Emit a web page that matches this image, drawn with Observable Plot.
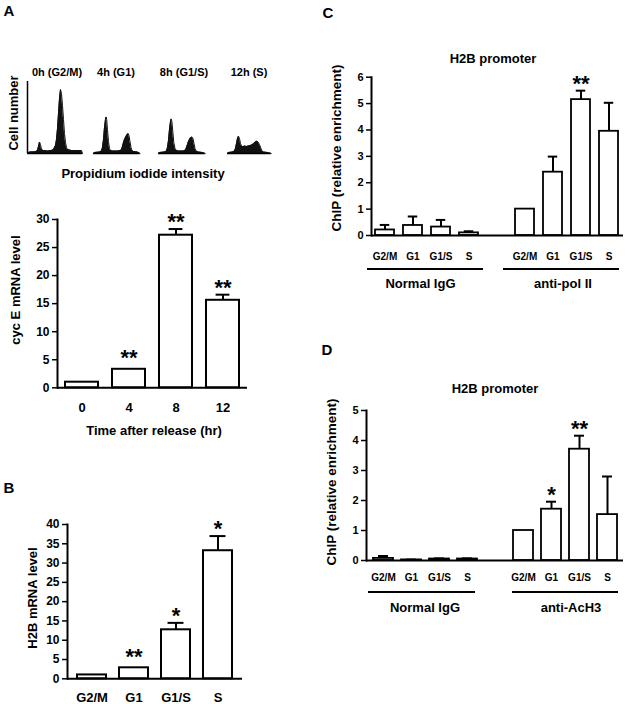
<!DOCTYPE html>
<html><head><meta charset="utf-8">
<script src="https://cdn.jsdelivr.net/npm/d3@7"></script>
<script src="https://cdn.jsdelivr.net/npm/@observablehq/plot@0.6"></script>
<style>
html,body{margin:0;padding:0;background:#fff;}
#fig{position:relative;width:627px;height:704px;overflow:hidden;font-family:"Liberation Sans",Arial,sans-serif;font-weight:bold;color:#000;background:#fff;}
.lbl{position:absolute;white-space:nowrap;transform:translate(-50%,-50%);line-height:1;}
.rot{transform:translate(-50%,-50%) rotate(-90deg);}
.hline{position:absolute;height:2px;background:#000;}
</style></head><body><div id="fig"></div>
<script>
// ---------- DATA ----------
// Panel A: flow cytometry histograms [PI intensity channel, relative cell count]
const histTitles = ["0h (G2/M)", "4h (G1)", "8h (G1/S)", "12h (S)"];
const hist0h = [[0,0],[2,1.5],[8,1.7],[10,3],[11,7],[12,11.5],[13,9],[14,4],[16,3],[20,2.5],[24,3],[26,4],[28,8],[29,14],[30,25],[31,40],[32,55],[33,64],[34,60],[35,48],[36,34],[37,20],[38,11],[39,6],[40,4],[44,3],[50,3],[54,3],[55,0]];
const hist4h = [[0,0],[1,1],[6,1.5],[8,2.5],[9,6],[10,14],[11,26],[12,34],[12.6,36.6],[13.2,34],[14,24],[15,12],[16,5],[17,3],[19,2.5],[24,2.5],[27,3],[28,4],[29,7],[30,11],[31,14],[32,16],[33,18],[34.6,20],[35.5,18],[36.5,12],[37.5,6],[38.5,3],[40,2],[44,1.5],[46.6,0]];
const hist8h = [[0,0],[1,1],[6,1.5],[8,2.5],[9,6],[10,13],[11,24],[12,32],[12.7,34.6],[13.4,32],[14.3,22],[15.3,11],[16.5,5],[18,3],[20,2.5],[25,2.5],[27,3.5],[28,6],[29,9],[30,12],[31.5,15],[33.4,16.6],[34.5,15],[35.5,10],[36.5,5],[37.5,2.5],[40,1.5],[44,1],[46.7,0]];
const hist12h = [[0,0],[1,1],[5,1.5],[7,2.5],[8,5],[9,10],[10,15],[11,17.3],[12,15],[13,10],[14,7.5],[15.4,6.7],[17,7.5],[19,7],[21,7.5],[23,8],[25,9],[27,10.5],[28.5,12],[29.4,12.3],[30.5,11.5],[32,9],[33.5,5],[34.5,2.5],[36,1.5],[40,1],[43.7,0]];

// Panel A: cyclin E mRNA
const timeLabels = ["0", "4", "8", "12"];
const cycE = [1.0, 3.3, 27.2, 15.6];
const cycEErr = [1.0, 3.3, 28.3, 16.6];
const cycEStars = ["", "**", "**", "**"];

// Panel B: H2B mRNA
const phases = ["G2/M", "G1", "G1/S", "S"];
const h2b = [1.0, 2.85, 12.7, 33.2];
const h2bErr = [1.0, 2.85, 14.5, 37.0];
const h2bStars = ["", "**", "*", "*"];

// Panel C: ChIP anti-pol II
const cIgG = [0.21, 0.38, 0.32, 0.10];
const cIgGErr = [0.40, 0.72, 0.59, 0.16];
const cPol = [1.0, 2.40, 5.15, 3.95];
const cPolErr = [1.0, 2.99, 5.49, 5.03];
const cPolStars = ["", "", "**", ""];

// Panel D: ChIP anti-AcH3
const dIgG = [0.07, 0.02, 0.05, 0.05];
const dIgGErr = [0.15, 0.03, 0.07, 0.07];
const dAc = [1.0, 1.71, 3.71, 1.53];
const dAcErr = [1.0, 1.96, 4.16, 2.80];
const dAcStars = ["", "*", "**", ""];

// ---------- HELPERS ----------
const FONT = "'Liberation Sans', Arial, sans-serif";
const fig = document.getElementById("fig");
function place(node, left, top) {
  node.style.position = "absolute";
  node.style.left = left + "px";
  node.style.top = top + "px";
  fig.appendChild(node);
}
function label(text, x, y, size, rot) {
  const d = document.createElement("div");
  d.className = "lbl" + (rot ? " rot" : "");
  d.textContent = text;
  d.style.left = x + "px";
  d.style.top = y + "px";
  d.style.fontSize = size + "px";
  fig.appendChild(d);
}
function hline(x1, x2, y) {
  const d = document.createElement("div");
  d.className = "hline";
  d.style.left = x1 + "px";
  d.style.width = (x2 - x1) + "px";
  d.style.top = (y - 1) + "px";
  fig.appendChild(d);
}

function histPlot(data, W, withAxis) {
  return Plot.plot({
    width: W + 4, height: 76,
    marginLeft: 2, marginRight: 2, marginTop: 2, marginBottom: 2,
    style: {background: "transparent", overflow: "visible"},
    x: {domain: [0, W], axis: null},
    y: {domain: [0, 72], axis: null},
    marks: [
      Plot.areaY(data, {x: d => d[0], y: d => d[1], fill: "#111"}),
      Plot.lineY(data, {x: d => d[0], y: d => d[1], stroke: "#111", strokeWidth: 1}),
      Plot.ruleY([0], {strokeWidth: 1.5}),
      withAxis ? Plot.ruleX([0], {strokeWidth: 1.5}) : null
    ]
  });
}

function barPanel(o) {
  const rows = o.keys.map((k, i) => ({key: k, v: o.values[i], e: o.errs[i], s: o.stars[i]}));
  const n = o.keys.length;
  const step = o.plotW / (n - o.padIn + 2 * o.padOut);
  const bw = step * (1 - o.padIn);
  const capInset = (bw - bw * o.capFrac) / 2;
  const real = rows.filter(r => r.v != null);
  const hasErr = real.filter(r => r.e > r.v);
  const starred = rows.filter(r => r.s);
  const mr = 14, mb = 40;
  return Plot.plot({
    width: o.marginLeft + o.plotW + mr,
    height: o.marginTop + o.plotH + mb,
    marginLeft: o.marginLeft, marginRight: mr, marginTop: o.marginTop, marginBottom: mb,
    style: {fontFamily: FONT, fontWeight: "bold", fontSize: o.yFont + "px", background: "transparent", overflow: "visible", color: "#000"},
    x: {type: "band", domain: o.keys, paddingInner: o.padIn, paddingOuter: o.padOut, align: 0.5},
    y: {domain: o.yDomain},
    marks: [
      Plot.axisY({ticks: o.yTicks, tickSize: 5, tickPadding: 3, strokeWidth: 1.5, label: null, fontSize: o.yFont, tickFormat: d => String(d)}),
      Plot.axisX({tickSize: 0, tickPadding: o.xPad, label: null, fontSize: o.xFont, tickFormat: k => o.tickText(k)}),
      Plot.ruleX(hasErr, {x: "key", y1: "v", y2: "e", strokeWidth: o.errW}),
      Plot.barY(real, {x: "key", y: "v", fill: "white", stroke: "black", strokeWidth: o.barW}),
      Plot.tickY(hasErr, {x: "key", y: "e", strokeWidth: o.errW, inset: capInset}),
      Plot.text(starred.filter(r => r.e > r.v), {x: "key", y: "e", text: "s", fontSize: 22, dy: -7}),
      Plot.text(starred.filter(r => !(r.e > r.v)), {x: "key", y: "v", text: "s", fontSize: 22, dy: -11}),
      Plot.ruleY([0], {strokeWidth: 2}),
      Plot.frame({anchor: "left", strokeWidth: 2})
    ]
  });
}

// ---------- PANEL A ----------
label("A", 9, 10, 15);
const hists = [hist0h, hist4h, hist8h, hist12h];
const histLeft = [27, 92.7, 158.3, 227.3];
const histW = [55, 46.6, 46.7, 43.7];
const titleX = [57, 116, 184, 249];
hists.forEach((h, i) => {
  place(histPlot(h, histW[i], i === 0), histLeft[i] - 2, 81.3 - 2);
  label(histTitles[i], titleX[i], 72, 11);
});
label("Cell number", 13, 113, 13, true);
label("Propidium iodide intensity", 143, 173, 13);

place(barPanel({
  keys: timeLabels, values: cycE, errs: cycEErr, stars: cycEStars,
  tickText: k => k, yDomain: [0, 30], yTicks: d3.range(0, 31, 5),
  marginLeft: 57, plotW: 190, marginTop: 19, plotH: 168.3,
  padIn: 0.305, padOut: 0.15, yFont: 12, xFont: 13, xPad: 15,
  capFrac: 0.42, errW: 2, barW: 2
}), 0, 200);
label("cyc E mRNA level", 15, 290, 13, true);
label("Time after release (hr)", 154, 430, 13);

// ---------- PANEL B ----------
label("B", 9, 487, 15);
place(barPanel({
  keys: phases, values: h2b, errs: h2bErr, stars: h2bStars,
  tickText: k => k, yDomain: [0, 40], yTicks: d3.range(0, 41, 5),
  marginLeft: 67, plotW: 175, marginTop: 20, plotH: 154.3,
  padIn: 0.315, padOut: 0.225, yFont: 12, xFont: 13, xPad: 14,
  capFrac: 0.55, errW: 2, barW: 2
}), 0, 504);
label("H2B mRNA level", 32, 598, 13, true);

// ---------- PANEL C / D helpers ----------
function chipKeys(a, b) {
  return [...phases.map(p => a + "|" + p), "gap", ...phases.map(p => b + "|" + p)];
}
const chipTick = k => k === "gap" ? "" : k.split("|")[1];

// ---------- PANEL C ----------
label("C", 328, 12, 15);
label("H2B promoter", 493, 58, 13);
place(barPanel({
  keys: chipKeys("IgG", "pol"),
  values: [...cIgG, null, ...cPol], errs: [...cIgGErr, null, ...cPolErr],
  stars: ["", "", "", "", "", ...cPolStars],
  tickText: chipTick, yDomain: [0, 6], yTicks: d3.range(0, 7, 1),
  marginLeft: 51, plotW: 252, marginTop: 16.7, plotH: 158.3,
  padIn: 0.32, padOut: 0.16, yFont: 11, xFont: 10, xPad: 17.4,
  capFrac: 0.5, errW: 2, barW: 1.8
}), 320, 60);
label("ChIP (relative enrichment)", 337, 148, 13.5, true);
hline(367, 483, 269.3);
hline(503, 619, 269.3);
label("Normal IgG", 420.5, 283, 13);
label("anti-pol II", 563, 283, 13);

// ---------- PANEL D ----------
label("D", 327, 349, 15);
label("H2B promoter", 495, 388, 13);
place(barPanel({
  keys: chipKeys("IgG", "AcH3"),
  values: [...dIgG, null, ...dAc], errs: [...dIgGErr, null, ...dAcErr],
  stars: ["", "", "", "", "", ...dAcStars],
  tickText: chipTick, yDomain: [0, 5], yTicks: d3.range(0, 6, 1),
  marginLeft: 46, plotW: 257, marginTop: 20, plotH: 150,
  padIn: 0.3, padOut: 0.15, yFont: 11, xFont: 10, xPad: 13.4,
  capFrac: 0.5, errW: 2, barW: 1.8
}), 320, 390);
label("ChIP (relative enrichment)", 332, 482, 13.5, true);
hline(368, 475, 591.7);
hline(512, 618, 591.7);
label("Normal IgG", 425, 607, 13);
label("anti-AcH3", 571, 607, 13);
</script>
</body></html>
